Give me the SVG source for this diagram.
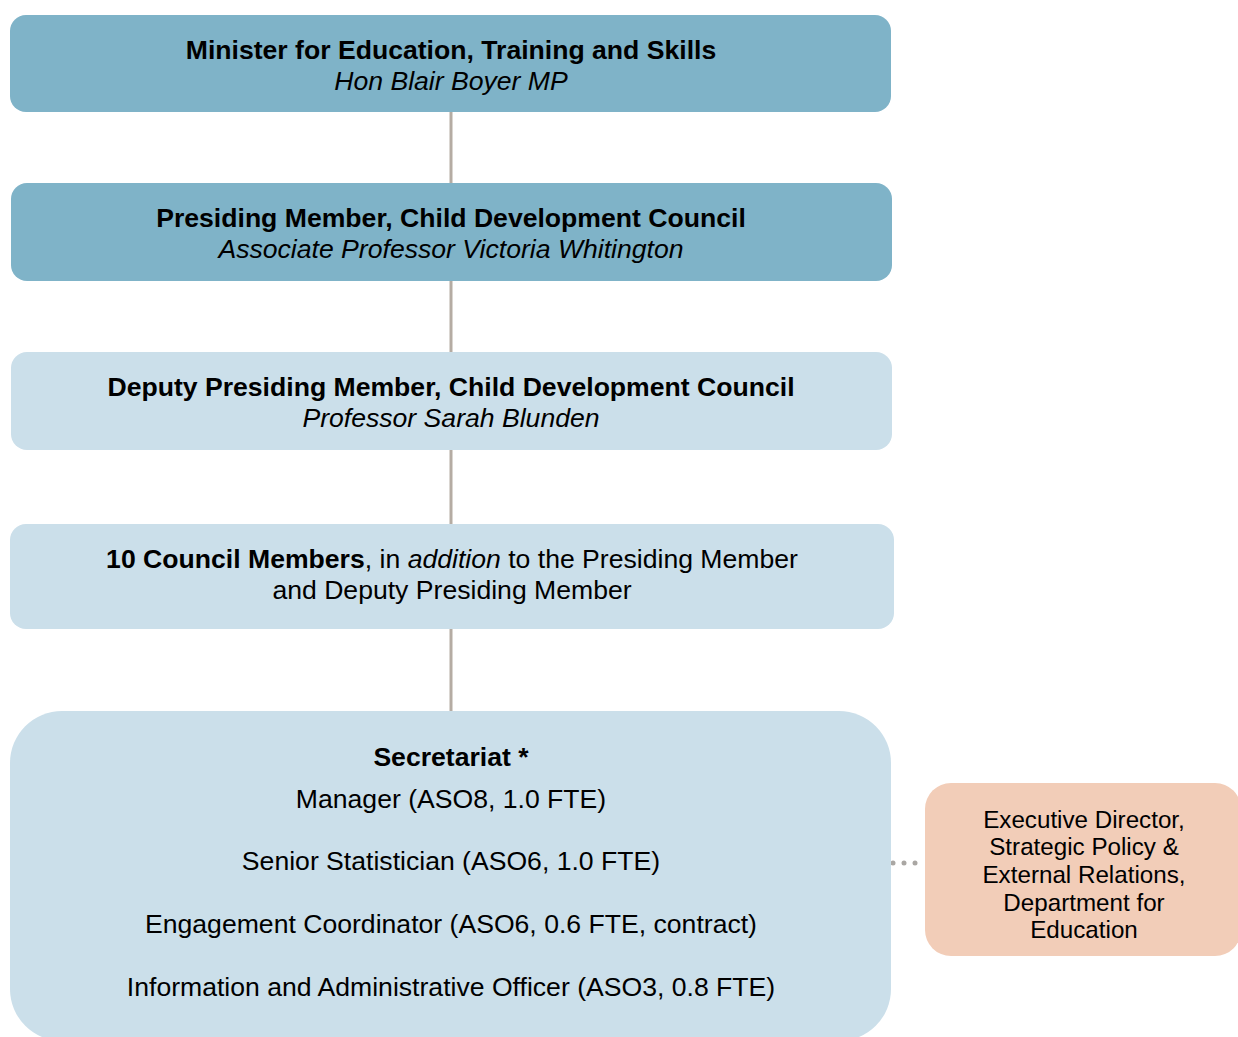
<svg xmlns="http://www.w3.org/2000/svg" width="1238" height="1037" viewBox="0 0 1238 1037">
<style>
text{font-family:"Liberation Sans",Arial,sans-serif;fill:#000;text-anchor:middle}
.t{font-size:26.6px}
.b{font-weight:bold}
.i{font-style:italic}
.s{font-size:24.2px}
.dark{fill:#7fb3c8}
.light{fill:#cbdfea}
.peach{fill:#f2cdb8}
.conn{stroke:#b5aca3;stroke-width:3;fill:none}
.dot{fill:#aaa7a3}
</style>
<rect width="1238" height="1037" fill="#fff"/>
<g id="connectors">
<line class="conn" x1="451" y1="112" x2="451" y2="183"/>
<line class="conn" x1="451" y1="281" x2="451" y2="352"/>
<line class="conn" x1="451" y1="450" x2="451" y2="524"/>
<line class="conn" x1="451" y1="629" x2="451" y2="711"/>
<circle class="dot" cx="893" cy="863" r="2.5"/>
<circle class="dot" cx="904" cy="863" r="2.5"/>
<circle class="dot" cx="915" cy="863" r="2.5"/>
</g>
<g id="minister">
<rect class="dark" x="10" y="15" width="881" height="97" rx="16"/>
<text class="t b" x="451" y="59">Minister for Education, Training and Skills</text>
<text class="t i" x="451" y="90">Hon Blair Boyer MP</text>
</g>
<g id="presiding">
<rect class="dark" x="11" y="183" width="881" height="98" rx="16"/>
<text class="t b" x="451" y="227">Presiding Member, Child Development Council</text>
<text class="t i" x="451" y="258">Associate Professor Victoria Whitington</text>
</g>
<g id="deputy">
<rect class="light" x="11" y="352" width="881" height="98" rx="16"/>
<text class="t b" x="451" y="396">Deputy Presiding Member, Child Development Council</text>
<text class="t i" x="451" y="427">Professor Sarah Blunden</text>
</g>
<g id="council">
<rect class="light" x="10" y="524" width="884" height="105" rx="16"/>
<text class="t" x="452" y="568"><tspan class="b">10 Council Members</tspan>, in <tspan class="i">addition</tspan> to the Presiding Member</text>
<text class="t" x="452" y="599">and Deputy Presiding Member</text>
</g>
<g id="secretariat">
<rect class="light" x="10" y="711" width="881" height="330" rx="52"/>
<text class="t b" x="451" y="766">Secretariat *</text>
<text class="t" x="451" y="808">Manager (ASO8, 1.0 FTE)</text>
<text class="t" x="451" y="870">Senior Statistician (ASO6, 1.0 FTE)</text>
<text class="t" x="451" y="933">Engagement Coordinator (ASO6, 0.6 FTE, contract)</text>
<text class="t" x="451" y="996">Information and Administrative Officer (ASO3, 0.8 FTE)</text>
</g>
<g id="executive">
<rect class="peach" x="925" y="783" width="316" height="173" rx="26"/>
<text class="s" x="1084" y="828">Executive Director,</text>
<text class="s" x="1084" y="855">Strategic Policy &amp;</text>
<text class="s" x="1084" y="883">External Relations,</text>
<text class="s" x="1084" y="911">Department for</text>
<text class="s" x="1084" y="938">Education</text>
</g>
</svg>
